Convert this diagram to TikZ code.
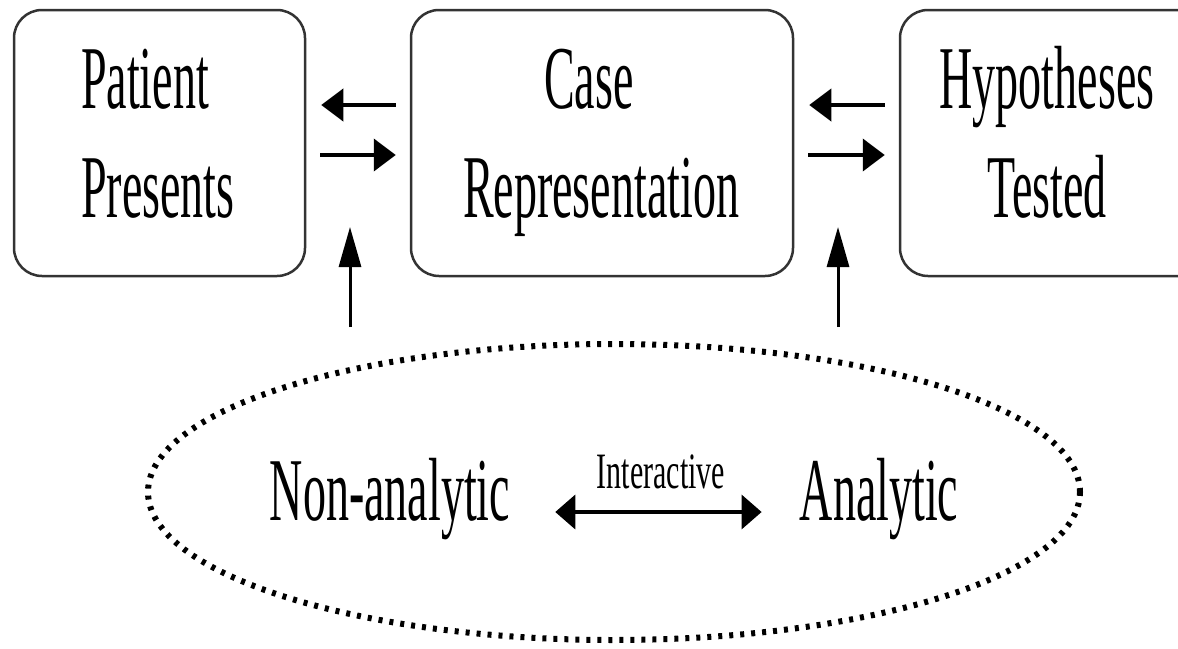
\documentclass[tikz,border=0pt]{standalone}
\usepackage{fontspec}
\setmainfont{Liberation Serif}
\usetikzlibrary{arrows.meta,shapes.geometric,calc}

\newcommand{\tallt}[1]{\scalebox{1}[1.95]{#1}}
\newcommand{\tallsm}[1]{\scalebox{1}[1.7]{#1}}

\tikzset{
  box/.style={draw=black!80, line width=2.5pt, rounded corners=28pt,
    minimum height=266pt, inner sep=0pt},
  word/.style={inner sep=0pt, font=\fontsize{46}{50}\selectfont},
  arr/.style={-{Triangle[length=22pt,width=32pt]}, line width=4pt},
  uparr/.style={-{Triangle[length=40pt,width=22pt]}, line width=3pt},
  both/.style={{Triangle[length=20pt,width=34pt]}-{Triangle[length=20pt,width=34pt]}, line width=3.5pt}
}

\begin{document}
\begin{tikzpicture}[x=1pt,y=-1pt]
\useasboundingbox (0,0) rectangle (1178,648);

% the three boxes
\node[box, minimum width=291pt] (pat) at (159.5,143) {};
\node[box, minimum width=382pt] (cas) at (602,143) {};
\node[box, minimum width=306pt] (hyp) at (1053,143) {};

\node[word, anchor=base west] (pat1) at (81,108) {\tallt{Patient}};
\node[word, anchor=base west] (pat2) at (81,217) {\tallt{Presents}};
\node[word, anchor=base] (cas1) at (589,108) {\tallt{Case}};
\node[word, anchor=base] (cas2) at (601,217) {\tallt{Representation}};
\node[word, anchor=base] (hyp1) at (1047,108) {\tallt{Hypotheses}};
\node[word, anchor=base] (hyp2) at (1047,217) {\tallt{Tested}};

% arrows between boxes
\draw[arr] ($(cas.west)+(-14,-38)$) -- ($(pat.east)+(15,-38)$);
\draw[arr] ($(pat.east)+(14,12)$) -- ($(cas.west)+(-14,12)$);
\draw[arr] ($(hyp.west)+(-14,-38)$) -- ($(cas.east)+(15,-38)$);
\draw[arr] ($(cas.east)+(14,12)$) -- ($(hyp.west)+(-14,12)$);

% the mode of reasoning
\node[draw, ellipse, line width=6pt, dash pattern=on 4pt off 7pt,
  minimum width=932pt, minimum height=296pt] (mode) at (614,492) {};
\node[word, anchor=base] (na) at (390,520) {\tallt{Non-analytic}};
\node[word, anchor=base] (an) at (879,520) {\tallt{Analytic}};
\node[inner sep=0pt, font=\fontsize{30}{34}\selectfont, anchor=base] (inter) at (661,488) {\tallsm{Interactive}};
\draw[both] ($(na.base east)+(45,-8)$) -- ($(an.base west)+(-38,-8)$);

% feeding up into the boxes
\coordinate (low1) at (350,327);
\coordinate (low2) at (838,327);
\draw[uparr] (low1) -- ++(0,-100);
\draw[uparr] (low2) -- ++(0,-100);
\end{tikzpicture}
\end{document}
